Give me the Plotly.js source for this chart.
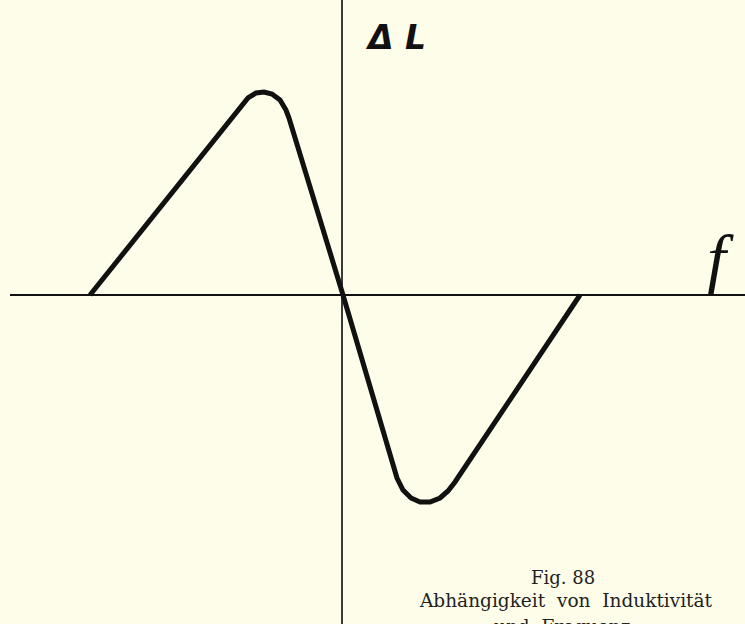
<!DOCTYPE html>
<html>
<head>
<meta charset="utf-8">
<script src="https://cdn.plot.ly/plotly-3.0.1.min.js"></script>
<style>
html,body{margin:0;padding:0;background:#fefde9;}
#chart{width:745px;height:624px;}
</style>
</head>
<body>
<div id="chart"></div>
<script>
// Frequency f (relative units) and inductance change ΔL
var fVals  = [-2.52, -1.02, -0.94, -0.86, -0.78, -0.70, -0.62, -0.56, -0.53, 0.01, 0.51, 0.55, 0.61, 0.69, 0.78, 0.88, 0.98, 1.06, 1.13, 2.38];
var dLVals = [ 0.00,  1.87,  1.97,  2.02,  2.03,  2.01,  1.95,  1.85,  1.77, 0.00, -1.70, -1.83, -1.95, -2.03, -2.07, -2.07, -2.03, -1.96, -1.87, 0.00];

var yAxisLabel = "Δ L";
var xAxisLabel = "f";
var captionLines = ["Fig. 88", "Abhängigkeit  von  Induktivität", "und  Frequenz"];

var ink = "#111111";
var bg = "#fefde9";

var trace = {
  x: fVals, y: dLVals, type: "scatter", mode: "lines",
  line: {color: ink, width: 5, shape: "linear"},
  hoverinfo: "skip"
};

var layout = {
  width: 745, height: 624,
  margin: {l: 10, r: 0, t: 0, b: 0},
  paper_bgcolor: bg, plot_bgcolor: bg,
  showlegend: false,
  xaxis: {range: [-3.32, 4.03], showgrid: false, showticklabels: false, ticks: "",
          zeroline: true, zerolinecolor: "#3a3a3a", zerolinewidth: 1.5, showline: false, fixedrange: true},
  yaxis: {range: [-3.29, 2.95], showgrid: false, showticklabels: false, ticks: "",
          zeroline: true, zerolinecolor: ink, zerolinewidth: 2.5, showline: false, fixedrange: true},
  annotations: [
    {text: "<b><i>" + yAxisLabel + "</i></b>", xref: "paper", yref: "paper", x: 0.524, y: 0.94, showarrow: false,
     font: {family: "DejaVu Sans", size: 33, color: ink}, xanchor: "center", yanchor: "middle"},
    {text: "<i>" + xAxisLabel + "</i>", xref: "paper", yref: "paper", x: 0.966, y: 0.585, showarrow: false,
     font: {family: "Liberation Serif", size: 68, color: ink}, xanchor: "center", yanchor: "middle"},
    {text: captionLines[0], xref: "paper", yref: "paper", x: 0.752, y: 0.074, showarrow: false,
     font: {family: "DejaVu Serif", size: 18, color: "#222222"}, xanchor: "center", yanchor: "middle"},
    {text: captionLines[1], xref: "paper", yref: "paper", x: 0.757, y: 0.038, showarrow: false,
     font: {family: "DejaVu Serif", size: 18.5, color: "#222222"}, xanchor: "center", yanchor: "middle"},
    {text: captionLines[2], xref: "paper", yref: "paper", x: 0.752, y: -0.004, showarrow: false,
     font: {family: "DejaVu Serif", size: 18.5, color: "#222222"}, xanchor: "center", yanchor: "middle"}
  ]
};

Plotly.newPlot("chart", [trace], layout, {staticPlot: true, displayModeBar: false});
</script>
</body>
</html>
